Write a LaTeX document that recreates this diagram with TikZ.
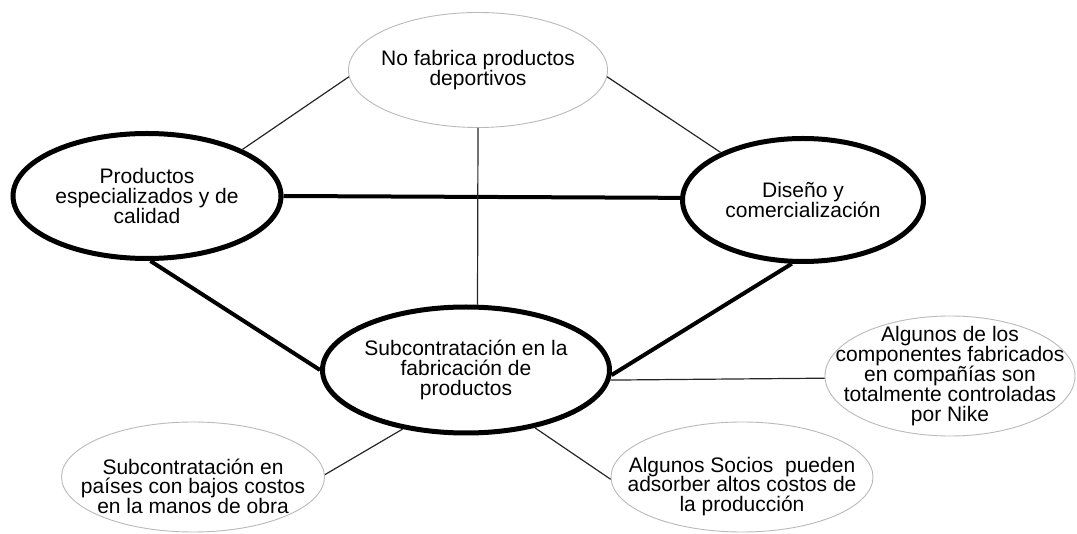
\documentclass[tikz,border=0pt]{standalone}
\usepackage{fontspec}
\setmainfont{Liberation Sans}
\usetikzlibrary{shapes.geometric}

\begin{document}
\begin{tikzpicture}[
                x=1pt, y=-1pt,                % 像素坐标
                every node/.style={
                    ellipse,
                    align=center,
                    inner xsep=-40pt,         % 文字可贴近边框
                    inner ysep=-30pt,
                    font=\fontsize{21}{19.8}\selectfont
                },
                main/.style={draw, line width=5pt},
                side/.style={draw=gray!55, line width=0.9pt},
                strong/.style={line width=4pt},
                weak/.style={line width=1.2pt, draw=black!85}
            ]
                \useasboundingbox (0,0) rectangle (1077,534);

                % 节点
                \node[side, minimum width=259pt, minimum height=115pt] (nofab) at (478,70) {No fabrica productos\\deportivos};
                \node[main, minimum width=268pt, minimum height=125pt] (calidad) at (147,196) {Productos\\especializados y de\\calidad};
                \node[main, minimum width=241pt, minimum height=123pt] (diseno) at (803,200) {Diseño y\\comercialización};
                \node[main, minimum width=287pt, minimum height=126pt] (subc) at (466,370) {Subcontratación en la\\fabricación de\\productos};
                \node[side, minimum width=250pt, minimum height=120pt] (comp) at (950,376) {Algunos de los\\componentes fabricados\\en compañías son\\totalmente controladas\\por Nike};
                \node[side, minimum width=262pt, minimum height=110pt] (socios) at (742,477) {\rule{0pt}{34pt}Algunos Socios\ \ pueden\\adsorber altos costos de\\la producción};
                \node[side, minimum width=263pt, minimum height=110pt] (paises) at (193,477) {\rule{0pt}{34pt}Subcontratación en\\países con bajos costos\\en la manos de obra};

                % 粗线
                \draw[strong] (calidad.east) -- (diseno.179);
                \draw[strong] (calidad.273) -- (subc.west);
                \draw[strong] (diseno.260) -- (subc.358);

                % 细线
                \draw[weak] (nofab.183) -- (calidad.26);
                \draw[weak] (nofab.357) -- (diseno.150);
                \draw[weak] (nofab.south) -- (subc.80);
                \draw[weak] (subc.356) -- (comp.181);
                \draw[weak] (subc.320) -- (socios.181);
                \draw[weak] (subc.223) -- (paises.1);
            \end{tikzpicture}
\end{document}
